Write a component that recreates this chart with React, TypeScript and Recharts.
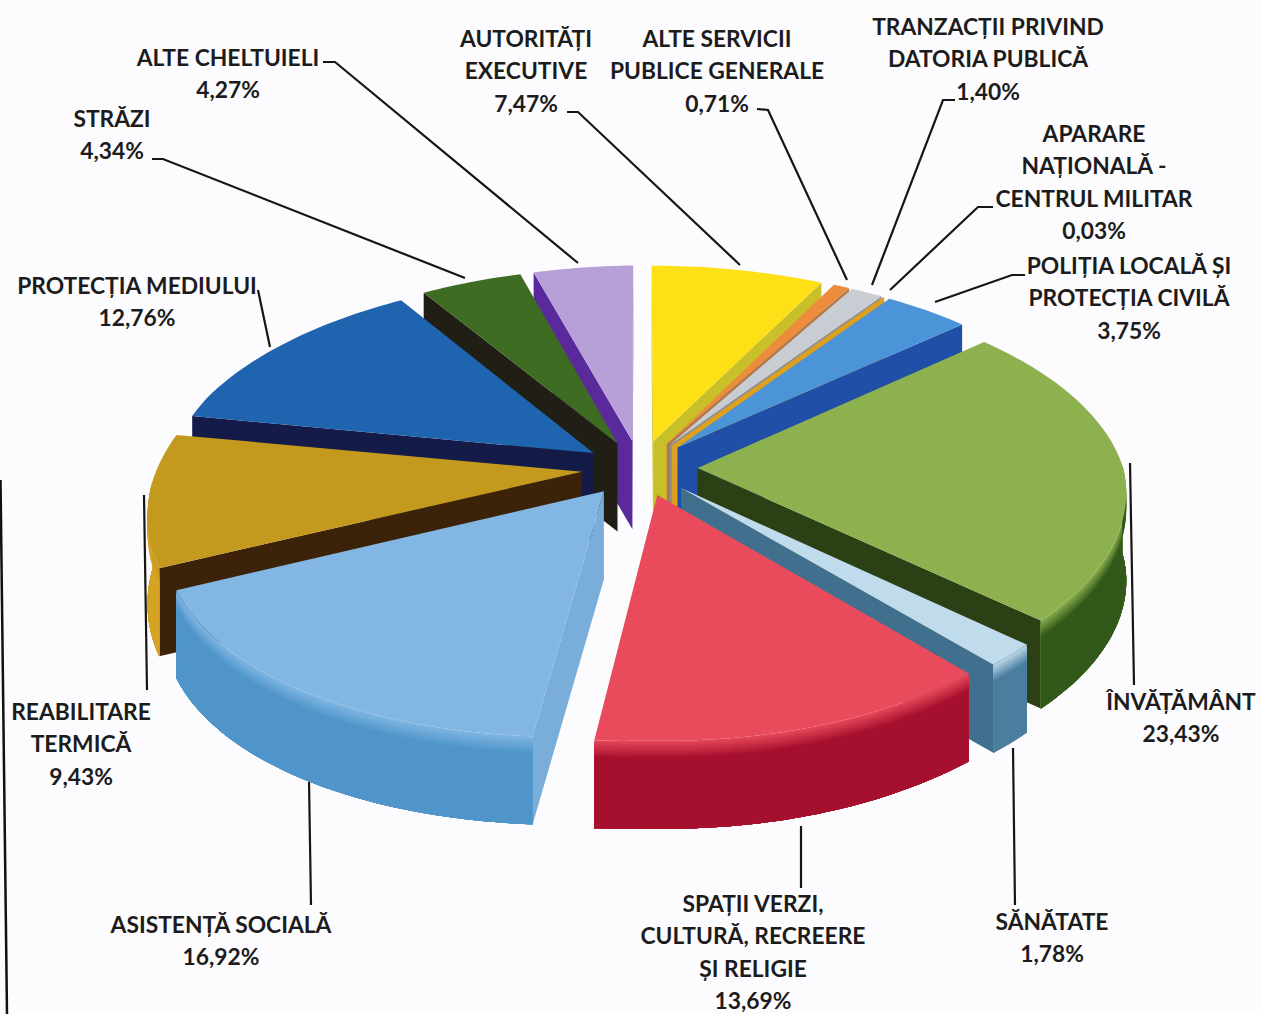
import { Pie, PieChart } from "recharts";

const CATEGORIES = [
  "Autorități executive",
  "Alte servicii publice generale",
  "Tranzacții privind datoria publică",
  "Aparare națională",
  "Poliția locală și protecția civilă",
  "Învățământ",
  "Sănătate",
  "Spații verzi, cultură, recreere și religie",
  "Asistență socială",
  "Reabilitare termică",
  "Protecția mediului",
  "Străzi",
  "Alte cheltuieli",
];
const VALUES = [7.47, 0.71, 1.4, 0.03, 3.75, 23.43, 1.78, 13.69, 16.92, 9.43, 12.76, 4.34, 4.27];
const LABEL_LINES = [
  ["AUTORITĂȚI", "EXECUTIVE"],
  ["ALTE SERVICII", "PUBLICE GENERALE"],
  ["TRANZACȚII PRIVIND", "DATORIA PUBLICĂ"],
  ["APARARE", "NAȚIONALĂ -", "CENTRUL MILITAR"],
  ["POLIȚIA LOCALĂ ȘI", "PROTECȚIA CIVILĂ"],
  ["ÎNVĂȚĂMÂNT"],
  ["SĂNĂTATE"],
  ["SPAȚII VERZI,", "CULTURĂ, RECREERE", "ȘI RELIGIE"],
  ["ASISTENȚĂ SOCIALĂ"],
  ["REABILITARE", "TERMICĂ"],
  ["PROTECȚIA MEDIULUI"],
  ["STRĂZI"],
  ["ALTE CHELTUIELI"],
];

const chartData = CATEGORIES.map((name, i) => ({ name, value: VALUES[i] }));

// top face, cut walls, rim wall
const COLORS = [
  ["#fde016", "#c9bf28", "#c9bf28"],
  ["#ee8c3e", "#b3794e", "#b3794e"],
  ["#c8ccd3", "#8f9095", "#8f9095"],
  ["#e8a214", "#e0a01a", "#e0a01a"],
  ["#4b94d8", "#1f4fa6", "#1f4fa6"],
  ["#8eb14f", "#2c4016", "#32591a"],
  ["#bfdbec", "#41708f", "#4a7e9f"],
  ["#ea4b5c", "#a5102e", "#a5102e"],
  ["#82b7e3", "#78aed9", "#4f95ca"],
  ["#c49a1e", "#3c2209", "#d6a324"],
  ["#1f64ae", "#141b48", "#141b48"],
  ["#3f6c23", "#201e15", "#201e15"],
  ["#b6a0d7", "#5a2a9c", "#5a2a9c"],
];

// back to front, so nearer slices cover the ones behind
const PAINT_ORDER = [12, 11, 0, 1, 2, 3, 4, 10, 9, 5, 6, 8, 7];

// center of each text block (x) and the baseline of its first line (y)
const LABEL_POS = [
  [526, 47], [717, 47], [988, 35], [1094, 142], [1129, 274], [1181, 710], [1052, 930],
  [753, 912], [221, 933], [81, 720], [137, 294], [112, 127], [228, 66],
];
const LEADERS = [
  [[567, 112], [578, 112], [740, 265]],
  [[757, 109], [768, 110], [847, 280]],
  [[955, 100], [943, 100], [872, 285]],
  [[993, 207], [978, 207], [890, 290]],
  [[1025, 275], [1012, 275], [935, 302]],
  [[1130, 463], [1134, 685]],
  [[1013, 748], [1015, 905]],
  [[801, 826], [801, 888]],
  [[309, 780], [311, 905]],
  [[144, 495], [147, 690]],
  [[258, 290], [270, 347]],
  [[152, 159], [163, 159], [465, 278]],
  [[323, 62], [335, 62], [578, 263]],
];

const WIDTH = 1262;
const HEIGHT = 1014;
const CX = 640;
const CY = 468;
const RADIUS = 430;
const FLATTEN = 0.478;
const PERSPECTIVE = 0.132;
const EXPLODE = 0.135;
const DEPTH = 88;
const FONT = "Lato, 'Open Sans', sans-serif";

type Pt = [number, number];

// disc coordinates (u to the right, v towards the viewer) to the page;
// the small corrections follow the skew of the scanned original
function project(cx: number, cy: number, r: number, u: number, v: number): Pt {
  const s = 1 / (1 - PERSPECTIVE * v);
  let dx = r * u * s;
  const dy = r * FLATTEN * v * s;
  const shear = 0.03 + 0.015 * Math.max(-1, Math.min(1, v / 0.4));
  const lift = dx < 0 ? -shear * dx : 0;
  if (dx > 0) dx *= 0.99 - 0.04 * Math.max(0, Math.min(1, v));
  return [cx + dx + 6 * Math.max(v, 0), cy + dy + lift];
}

const toPath = (pts: Pt[]) => "M" + pts.map((p) => `${p[0].toFixed(1)},${p[1].toFixed(1)}`).join("L") + "Z";
const drop = (pts: Pt[], d: number): Pt[] => pts.map((p) => [p[0], p[1] + d]);

function mix(a: string, b: string, t: number) {
  const ch = (c: string, i: number) => parseInt(c.slice(1 + i * 2, 3 + i * 2), 16);
  const out = [0, 1, 2].map((i) => Math.round(ch(a, i) * (1 - t) + ch(b, i) * t));
  return `rgb(${out.join(",")})`;
}

const side = (a: Pt, b: Pt, p: Pt) => (b[0] - a[0]) * (p[1] - a[1]) - (b[1] - a[1]) * (p[0] - a[0]);

function Slice3D({ idx, cx, cy, outerRadius, startAngle, endAngle }: any) {
  // recharts angles run counter-clockwise from 3 o'clock, here clockwise from the top
  const t0 = ((90 - startAngle) * Math.PI) / 180;
  const t1 = ((90 - endAngle) * Math.PI) / 180;
  const mid = (t0 + t1) / 2;
  const ou = EXPLODE * Math.sin(mid);
  const ov = -EXPLODE * Math.cos(mid);
  const at = (t: number, r = 1) => project(cx, cy, outerRadius, ou + r * Math.sin(t), ov - r * Math.cos(t));

  const steps = Math.max(2, Math.ceil((t1 - t0) / 0.02));
  const angles = Array.from({ length: steps + 1 }, (_, i) => t0 + ((t1 - t0) * i) / steps);
  const rim = angles.map((t) => at(t));
  const apex = at(0, 0);
  const [top, cut, rimColor] = COLORS[idx];
  const inner = at(mid, 0.6);

  const walls = [rim[0], rim[rim.length - 1]]
    .filter((p) => side(apex, p, inner) * side(apex, p, [p[0], p[1] + DEPTH]) < 0)
    .map((p) => [apex, p, [p[0], p[1] + DEPTH], [apex[0], apex[1] + DEPTH]] as Pt[]);

  const front = angles.filter((t) => Math.cos(t) < 0.03).map((t) => at(t));
  const bevel = Array.from({ length: 12 }, (_, i) => i * 1.5);

  return (
    <g>
      {walls.map((w, i) => (
        <path key={i} d={toPath(w)} fill={cut} />
      ))}
      {front.length > 1 &&
        bevel.map((d, i) => (
          <path
            key={d}
            d={toPath([...drop(front, d), ...drop(front, DEPTH).reverse()])}
            fill={mix(top, rimColor, (i + 1) / bevel.length)}
          />
        ))}
      <path d={toPath([apex, ...rim])} fill={top} />
    </g>
  );
}

const percent = (v: number) => v.toFixed(2).replace(".", ",") + "%";

export default function App() {
  return (
    <div style={{ position: "absolute", left: 0, top: 0, width: WIDTH, height: HEIGHT, background: "#fcfbfd" }}>
      <PieChart width={WIDTH} height={HEIGHT} margin={{ top: 0, right: 0, bottom: 0, left: 0 }}>
        <line x1={0.5} y1={480} x2={7} y2={1014} stroke="#111" strokeWidth={2.5} />
        {PAINT_ORDER.map((idx) => (
          <Pie
            key={idx}
            data={chartData}
            dataKey="value"
            nameKey="name"
            cx={CX}
            cy={CY}
            outerRadius={RADIUS}
            startAngle={90}
            endAngle={-270}
            stroke="none"
            isAnimationActive={false}
            shape={(props: any) =>
              props.index === idx || props.name === CATEGORIES[idx] ? <Slice3D {...props} idx={idx} /> : <g />
            }
          />
        ))}
        {LEADERS.map((pts, i) => (
          <polyline key={i} points={pts.join(" ")} fill="none" stroke="#161616" strokeWidth={2.2} />
        ))}
        {CATEGORIES.map((name, i) => (
          <text key={name} textAnchor="middle" fontFamily={FONT} fontSize={22.8} fontWeight={700} fill="#1c1c1c">
            {[...LABEL_LINES[i], percent(VALUES[i])].map((line, k) => (
              <tspan key={k} x={LABEL_POS[i][0]} y={LABEL_POS[i][1] + k * 32.3}>
                {line}
              </tspan>
            ))}
          </text>
        ))}
      </PieChart>
    </div>
  );
}
